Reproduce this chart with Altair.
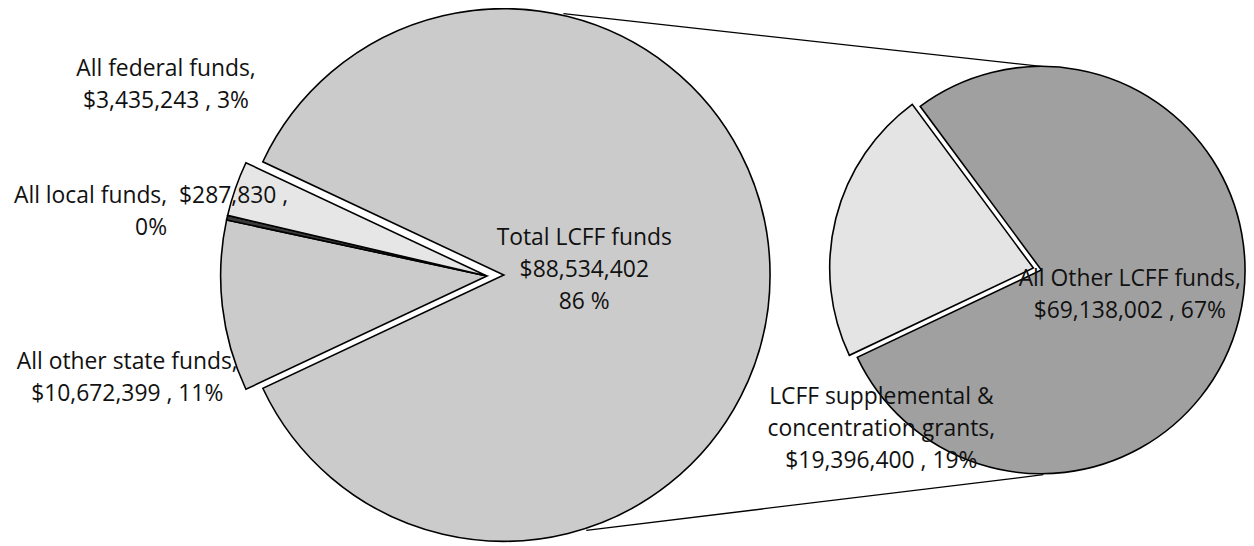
import math
import altair as alt
import pandas as pd

# ---- data ----
main_labels = ["Total LCFF funds", "All other state funds", "All local funds", "All federal funds"]
main_values = [88534402, 10672399, 287830, 3435243]
main_pcts = [86, 11, 0, 3]

sub_labels = ["All Other LCFF funds", "LCFF supplemental & concentration grants"]
sub_values = [69138002, 19396400]
sub_pcts = [67, 19]

main_colors = ["#cbcbcb", "#cbcbcb", "#3a3a3a", "#e6e6e6"]
sub_colors = ["#a0a0a0", "#e4e4e4"]

FONT = "Open Sans"
FS = 23
LH = 32

main_df = pd.DataFrame({"label": main_labels, "value": main_values, "order": list(range(len(main_labels)))})
sub_df = pd.DataFrame({"label": sub_labels, "value": sub_values, "order": list(range(len(sub_labels)))})

# LCFF slice centred on the right-hand side (facing the secondary pie)
start_main = math.pi / 2 - math.pi * main_values[0] / sum(main_values)
start_sub = math.radians(-36.5)

color_scale = alt.Scale(domain=main_labels + sub_labels, range=main_colors + sub_colors)


def pie(df, start, filt, cx, cy, r):
    base = (
        alt.Chart(df)
        .transform_joinaggregate(total="sum(value)")
        .transform_window(cum="sum(value)", sort=[alt.SortField("order")], frame=[None, 0])
        .transform_calculate(
            t1=f"{start} + 2*PI*(datum.cum - datum.value)/datum.total",
            t2=f"{start} + 2*PI*datum.cum/datum.total",
        )
    )
    if filt:
        base = base.transform_filter(filt)
    return base.mark_arc(radius=r, stroke="black", strokeWidth=1.6).encode(
        theta=alt.Theta("t1:Q", scale=None),
        theta2=alt.Theta2("t2:Q"),
        x=alt.value(cx),
        y=alt.value(cy),
        color=alt.Color("label:N", scale=color_scale, legend=None),
    )


big = pie(main_df, start_main, f"datum.label == '{main_labels[0]}'", 507, 275, 268)
exploded = pie(main_df, start_main, f"datum.label != '{main_labels[0]}'", 490, 276, 268)
small = pie(sub_df, start_sub, f"datum.label == '{sub_labels[0]}'", 1048, 270, 205)
small_ex = pie(sub_df, start_sub, f"datum.label == '{sub_labels[1]}'", 1040, 268, 205)

one = pd.DataFrame({"a": [0]})


def seg(x1, y1, x2, y2, w=1.3):
    return alt.Chart(one).mark_rule(color="black", strokeWidth=w).encode(
        x=alt.value(x1), y=alt.value(y1), x2=alt.value(x2), y2=alt.value(y2)
    )


connectors = [seg(567, 12, 1048, 65), seg(590, 532, 1050, 476)]


def money(v):
    return f"${v:,}"


label_texts = [
    (f"{main_labels[3]},\n{money(main_values[3])} , {main_pcts[3]}%", 167, 75),
    (f"{main_labels[2]},\u00a0 {money(main_values[2])} ,\n{main_pcts[2]}%", 152, 203),
    (f"{main_labels[1]},\n{money(main_values[1])} , {main_pcts[1]}%", 128, 370),
    (f"{main_labels[0]}\n{money(main_values[0])}\n{main_pcts[0]} %", 588, 245),
    (f"{sub_labels[0]},\n{money(sub_values[0])} , {sub_pcts[0]}%", 1137, 286),
    ("LCFF supplemental &\nconcentration grants,\n" + f"{money(sub_values[1])} , {sub_pcts[1]}%", 887, 405),
]

texts = [
    alt.Chart(one)
    .mark_text(font=FONT, fontSize=FS, lineHeight=LH, lineBreak="\n", align="center", baseline="alphabetic", color="#111111")
    .encode(text=alt.value(t), x=alt.value(x), y=alt.value(y))
    for t, x, y in label_texts
]

chart = (
    alt.layer(big, exploded, small, small_ex, *connectors, *texts)
    .properties(
        width=1254,
        height=546,
        autosize=alt.AutoSizeParams(type="none"),
        padding={"left": -8, "top": -8, "right": 0, "bottom": 0},
    )
    .configure_view(strokeWidth=0)
)

chart.save("out.html", embed_options={"renderer": "svg", "actions": False})
